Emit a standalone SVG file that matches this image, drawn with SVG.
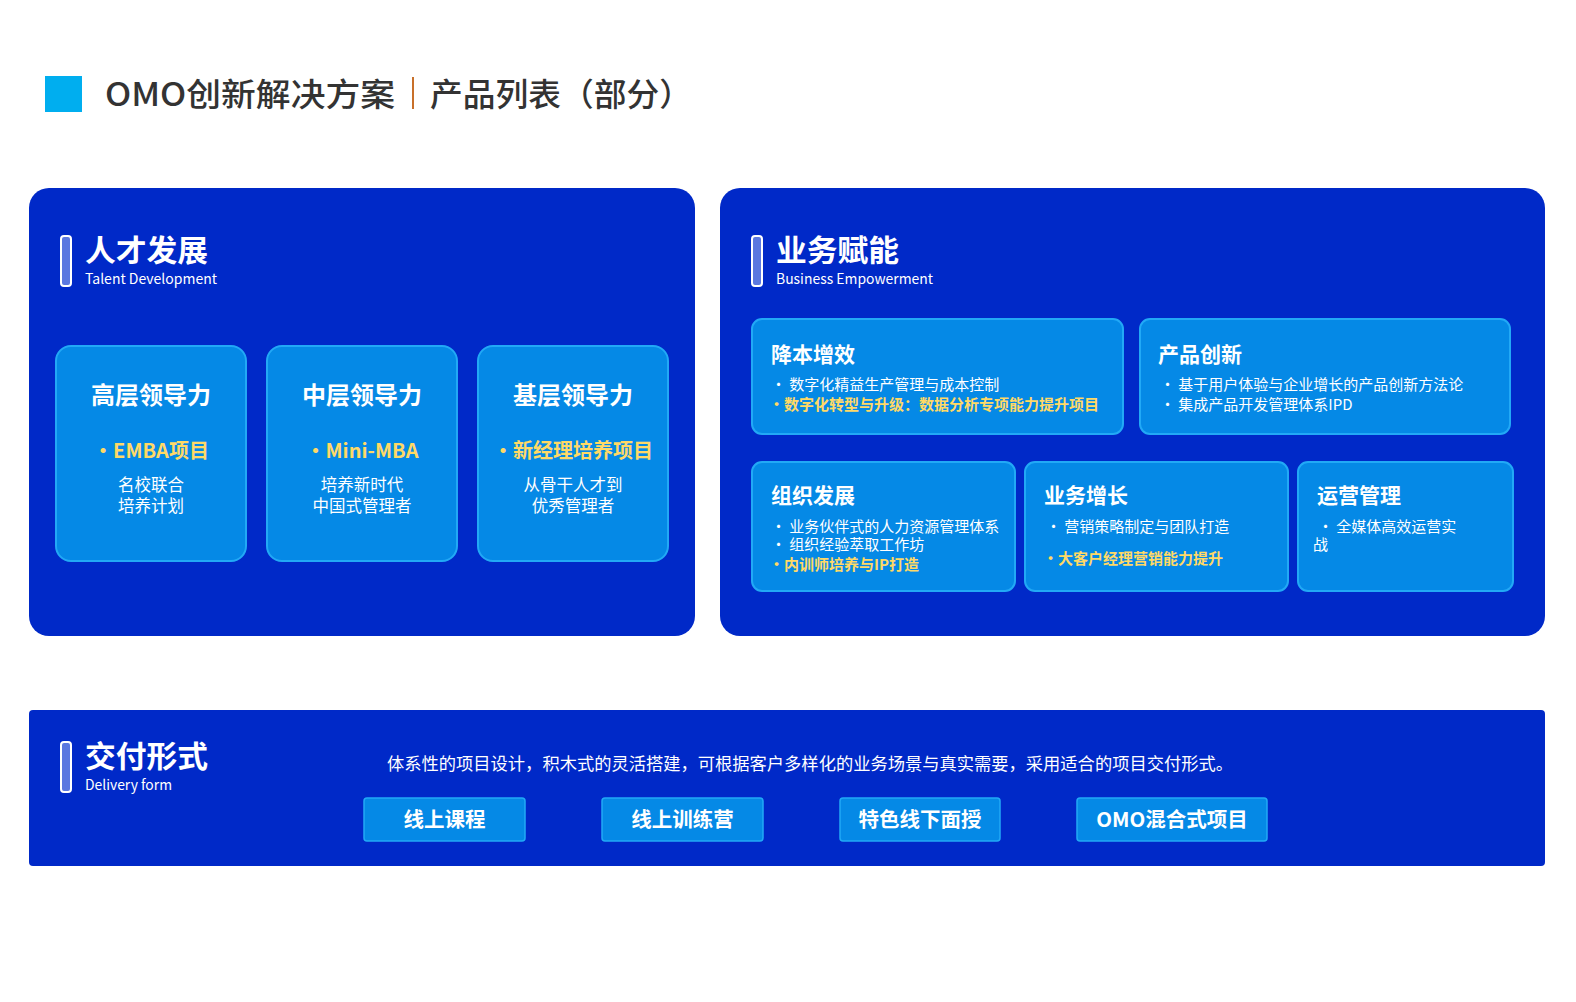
<svg xmlns="http://www.w3.org/2000/svg" width="1576" height="1002" viewBox="0 0 1576 1002">
<style>
text{font-family:"Noto Sans CJK SC","Noto Sans",sans-serif;}
.panel{fill:#0029C8;}
.card{fill:#0589E6;stroke:#22A9F6;stroke-width:2;}
.bar{fill:#5B78E0;stroke:#FFFFFF;stroke-width:2;}
.h1{fill:#FFFFFF;font-size:30px;font-weight:700;}
.en{fill:#FFFFFF;font-size:14px;}
.ct{fill:#FFFFFF;font-size:24px;font-weight:700;text-anchor:middle;}
.cy{fill:#FFD966;font-size:20px;font-weight:700;text-anchor:middle;}
.cw{fill:#FFFFFF;font-size:16.5px;text-anchor:middle;}
.rt{fill:#FFFFFF;font-size:21px;font-weight:700;}
.rw{fill:#FFFFFF;font-size:15px;}
.ry{fill:#FFD966;font-size:15px;font-weight:700;}
.btn{fill:#0589E6;stroke:#22A9F6;stroke-width:1.5;}
.bt{fill:#FFFFFF;font-size:20.5px;font-weight:700;text-anchor:middle;}
</style>
<rect width="1576" height="1002" fill="#FFFFFF"/>
<g id="title">
<rect x="45" y="76" width="37" height="36" fill="#00AEEF"/>
<text x="105" y="106" font-size="32" font-weight="500" fill="#333333" textLength="290" lengthAdjust="spacingAndGlyphs">OMO创新解决方案</text>
<line x1="413" y1="77" x2="413" y2="109" stroke="#C8702A" stroke-width="2"/>
<text x="430" y="106" font-size="32" font-weight="500" fill="#333333" textLength="262" lengthAdjust="spacingAndGlyphs">产品列表（部分）</text>
</g>
<g id="connectors"></g>
<g id="talent">
<rect class="panel" x="29" y="188" width="666" height="448" rx="20"/>
<rect class="bar" x="61" y="236" width="10" height="50" rx="3"/>
<text class="h1" x="85" y="261" textLength="123" lengthAdjust="spacingAndGlyphs">人才发展</text>
<text class="en" x="85" y="284" textLength="132" lengthAdjust="spacingAndGlyphs">Talent Development</text>
</g>
<g id="card-senior">
<rect class="card" x="56" y="346" width="190" height="215" rx="15"/>
<text class="ct" x="151" y="404">高层领导力</text>
<text class="cy" x="151" y="458">·EMBA项目</text>
<text class="cw" x="151" y="491">名校联合</text>
<text class="cw" x="151" y="512">培养计划</text>
</g>
<g id="card-middle">
<rect class="card" x="267" y="346" width="190" height="215" rx="15"/>
<text class="ct" x="362" y="404">中层领导力</text>
<text class="cy" x="362" y="458">·Mini-MBA</text>
<text class="cw" x="362" y="491">培养新时代</text>
<text class="cw" x="362" y="512">中国式管理者</text>
</g>
<g id="card-junior">
<rect class="card" x="478" y="346" width="190" height="215" rx="15"/>
<text class="ct" x="573" y="404">基层领导力</text>
<text class="cy" x="573" y="458">·新经理培养项目</text>
<text class="cw" x="573" y="491">从骨干人才到</text>
<text class="cw" x="573" y="512">优秀管理者</text>
</g>
<g id="business">
<rect class="panel" x="720" y="188" width="825" height="448" rx="20"/>
<rect class="bar" x="752" y="236" width="10" height="50" rx="3"/>
<text class="h1" x="776" y="261" textLength="123" lengthAdjust="spacingAndGlyphs">业务赋能</text>
<text class="en" x="776" y="284" textLength="157" lengthAdjust="spacingAndGlyphs">Business Empowerment</text>
</g>
<g id="card-cost">
<rect class="card" x="752" y="319" width="371" height="115" rx="10"/>
<text class="rt" x="771" y="362">降本增效</text>
<text class="rw" x="771" y="390">· 数字化精益生产管理与成本控制</text>
<text class="ry" x="769" y="410">·数字化转型与升级：数据分析专项能力提升项目</text>
</g>
<g id="card-product">
<rect class="card" x="1140" y="319" width="370" height="115" rx="10"/>
<text class="rt" x="1158" y="362">产品创新</text>
<text class="rw" x="1160" y="390">· 基于用户体验与企业增长的产品创新方法论</text>
<text class="rw" x="1160" y="410">· 集成产品开发管理体系IPD</text>
</g>
<g id="card-org">
<rect class="card" x="752" y="462" width="263" height="129" rx="10"/>
<text class="rt" x="771" y="503">组织发展</text>
<text class="rw" x="771" y="532">· 业务伙伴式的人力资源管理体系</text>
<text class="rw" x="771" y="550">· 组织经验萃取工作坊</text>
<text class="ry" x="769" y="570">·内训师培养与IP打造</text>
</g>
<g id="card-growth">
<rect class="card" x="1025" y="462" width="263" height="129" rx="10"/>
<text class="rt" x="1044" y="503">业务增长</text>
<text class="rw" x="1046" y="532">· 营销策略制定与团队打造</text>
<text class="ry" x="1043" y="564">·大客户经理营销能力提升</text>
</g>
<g id="card-ops">
<rect class="card" x="1298" y="462" width="215" height="129" rx="10"/>
<text class="rt" x="1317" y="503">运营管理</text>
<text class="rw" x="1318" y="532">· 全媒体高效运营实</text>
<text class="rw" x="1313" y="550">战</text>
</g>
<g id="delivery">
<rect class="panel" x="29" y="710" width="1516" height="156" rx="4"/>
<rect class="bar" x="61" y="742" width="10" height="50" rx="3"/>
<text class="h1" x="85" y="767" textLength="123" lengthAdjust="spacingAndGlyphs">交付形式</text>
<text class="en" x="85" y="790" textLength="87" lengthAdjust="spacingAndGlyphs">Delivery form</text>
<text x="387" y="770" font-size="17" fill="#FFFFFF" textLength="846" lengthAdjust="spacingAndGlyphs">体系性的项目设计，积木式的灵活搭建，可根据客户多样化的业务场景与真实需要，采用适合的项目交付形式。</text>
</g>
<g id="btn-online-course">
<rect class="btn" x="364" y="798" width="161" height="43" rx="3"/>
<text class="bt" x="444.5" y="827">线上课程</text>
</g>
<g id="btn-online-camp">
<rect class="btn" x="602" y="798" width="161" height="43" rx="3"/>
<text class="bt" x="682.5" y="827">线上训练营</text>
</g>
<g id="btn-offline">
<rect class="btn" x="840" y="798" width="160" height="43" rx="3"/>
<text class="bt" x="920" y="827">特色线下面授</text>
</g>
<g id="btn-omo">
<rect class="btn" x="1077" y="798" width="190" height="43" rx="3"/>
<text class="bt" x="1172" y="827">OMO混合式项目</text>
</g>
</svg>
